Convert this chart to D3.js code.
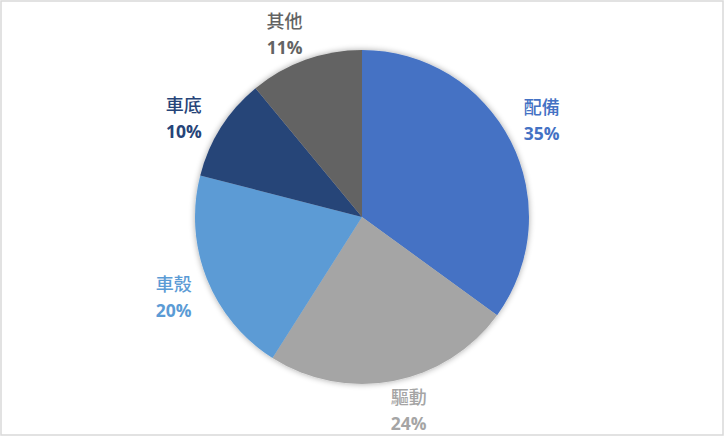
<!DOCTYPE html>
<html><head><meta charset="utf-8">
<script src="https://cdn.jsdelivr.net/npm/d3@7"></script>
<style>body{margin:0;background:#fff}svg{display:block}</style>
</head><body>
<svg id="c" width="724" height="436"></svg>
<script>
const categories = ["配備","驅動","車殼","車底","其他"];
const values = [35,24,20,10,11];
const colors = ["#4472C4","#A5A5A5","#5B9BD5","#264478","#636363"];

const W=724,H=436, cx=362, cy=217, R=167, rx=206, ry=198, angShift=-0.04;
const svg=d3.select("#c");
svg.append("rect").attr("x",1).attr("y",1).attr("width",W-2).attr("height",H-2)
  .attr("fill","#fff").attr("stroke","#d9d9d9").attr("stroke-width",1.5);

const defs=svg.append("defs");
const f=defs.append("filter").attr("id","sh").attr("x","-20%").attr("y","-20%").attr("width","140%").attr("height","140%");
f.append("feGaussianBlur").attr("in","SourceAlpha").attr("stdDeviation",3).attr("result","b");
f.append("feComponentTransfer").attr("in","b").attr("result","s").append("feFuncA").attr("type","linear").attr("slope",0.35);
const m=f.append("feMerge"); m.append("feMergeNode").attr("in","s"); m.append("feMergeNode").attr("in","SourceGraphic");

const data=categories.map((c,i)=>({c,v:values[i],col:colors[i]}));
const pie=d3.pie().value(d=>d.v).sort(null);
const arc=d3.arc().innerRadius(0).outerRadius(R);
const arcs=pie(data);
const g=svg.append("g").attr("transform",`translate(${cx},${cy})`);
g.append("g").attr("filter","url(#sh)").selectAll("path").data(arcs).join("path")
  .attr("d",arc).attr("fill",d=>d.data.col);

const lg=g.selectAll("g.lab").data(arcs).join("g").attr("class","lab")
  .attr("transform",d=>{
    const a=(d.startAngle+d.endAngle)/2+angShift;
    return `translate(${rx*Math.sin(a)},${-ry*Math.cos(a)})`;
  });
lg.append("text").attr("text-anchor","middle").attr("y",-6)
  .attr("font-family","'Noto Sans CJK TC','Noto Sans CJK SC',sans-serif").attr("font-size",18).attr("font-weight",500)
  .attr("fill",d=>d.data.col).text(d=>d.data.c);
lg.append("text").attr("text-anchor","middle").attr("y",20)
  .attr("font-family","'Open Sans','Liberation Sans',sans-serif").attr("font-size",17.5).attr("font-weight","bold")
  .attr("fill",d=>d.data.col).text(d=>d.data.v+"%");
</script>
</body></html>
